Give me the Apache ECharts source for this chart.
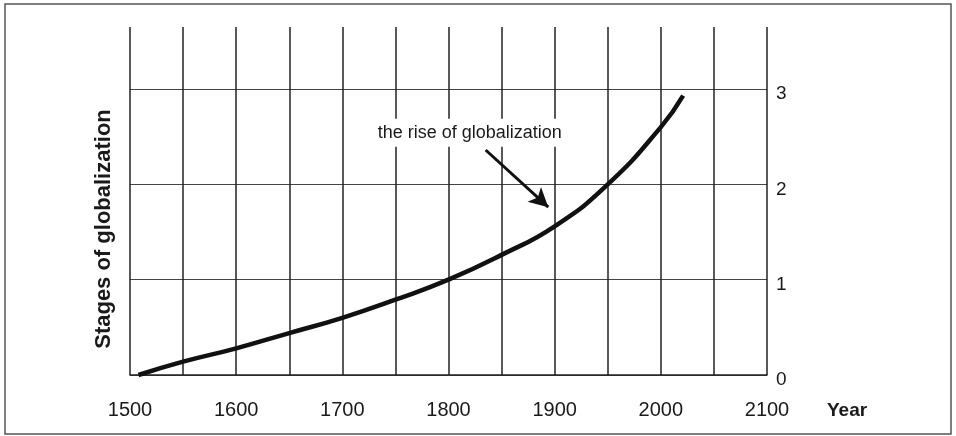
<!DOCTYPE html>
<html>
<head>
<meta charset="utf-8">
<script src="https://cdn.jsdelivr.net/npm/echarts@6/dist/echarts.min.js"></script>
<style>
  html, body { margin: 0; padding: 0; background: #fff; }
  #chart { width: 956px; height: 436px; }
</style>
</head>
<body>
<div id="chart"></div>
<script>
// values
const years = [1508, 1550, 1600, 1650, 1700, 1750, 1800, 1850, 1900, 1950, 2000, 2021];
const stages = [0, 0.14, 0.28, 0.44, 0.60, 0.79, 1.0, 1.26, 1.56, 2.0, 2.6, 2.93];
const yearTicks = [1500, 1600, 1700, 1800, 1900, 2000, 2100];
const stageTicks = [0, 1, 2, 3];
const noteText = 'the rise of globalization';
const notePos = [1820, 2.54];
const arrowFrom = [1835, 2.36];
const arrowTo = [1894, 1.76];

const font = '"Liberation Sans", Arial, Helvetica, sans-serif';
const ink = '#1a1a1a';

const chart = echarts.init(document.getElementById('chart'));

chart.setOption({
  backgroundColor: '#fff',
  animation: false,
  textStyle: { fontFamily: font, color: ink },
  grid: { left: 130, right: 189, top: 27, bottom: 61 },
  graphic: [{
    type: 'rect',
    shape: { x: 5, y: 4, width: 946, height: 430 },
    style: { fill: 'none', stroke: '#555', lineWidth: 1.5 },
    silent: true
  }, {
    // axis titles sit off-centre in the original, so place them by hand
    type: 'text',
    x: 827, y: 411,
    style: { text: 'Year', font: 'bold 19px ' + font, fill: ink, align: 'left', verticalAlign: 'middle' },
    silent: true
  }, {
    type: 'text',
    x: 104, y: 229,
    rotation: Math.PI / 2,
    style: { text: 'Stages of globalization', font: 'bold 22px ' + font, fill: ink, align: 'center', verticalAlign: 'middle' },
    silent: true
  }],
  xAxis: {
    type: 'value',
    min: 1500,
    max: 2100,
    interval: 50,
    axisLine: { show: true, lineStyle: { color: '#222', width: 1.5 } },
    axisTick: { show: false },
    axisLabel: {
      margin: 25,
      fontFamily: font,
      fontSize: 20,
      color: ink,
      formatter: v => (yearTicks.includes(v) ? String(v) : '')
    },
    splitLine: { show: true, lineStyle: { color: '#222', width: 1.5 } }
  },
  yAxis: {
    type: 'value',
    position: 'right',
    min: 0,
    max: 3.65,
    interval: 1,
    axisLine: { show: false },
    axisTick: { show: false },
    axisLabel: {
      margin: 9,
      fontFamily: font,
      fontSize: 19,
      color: ink,
      verticalAlign: 'top',
      lineHeight: 10,
      formatter: v => (stageTicks.includes(v) ? String(v) : '')
    },
    splitLine: { show: true, showMaxLine: false, lineStyle: { color: '#444', width: 1 } }
  },
  series: [{
    type: 'line',
    data: years.map((y, i) => [y, stages[i]]),
    smooth: true,
    showSymbol: false,
    lineStyle: { color: '#111', width: 4.5 },
    markPoint: {
      silent: true,
      symbol: 'rect',
      symbolSize: 0,
      data: [{ coord: notePos, value: noteText }],
      label: {
        show: true,
        position: 'inside',
        formatter: noteText,
        fontFamily: font,
        fontSize: 18,
        color: ink,
        backgroundColor: '#fff',
        padding: [5, 3]
      }
    },
    markLine: {
      silent: true,
      symbol: ['none', 'arrow'],
      symbolSize: [15, 19],
      label: { show: false },
      lineStyle: { color: '#111', width: 3, type: 'solid' },
      data: [[{ coord: arrowFrom }, { coord: arrowTo }]]
    }
  }]
});
</script>
</body>
</html>
